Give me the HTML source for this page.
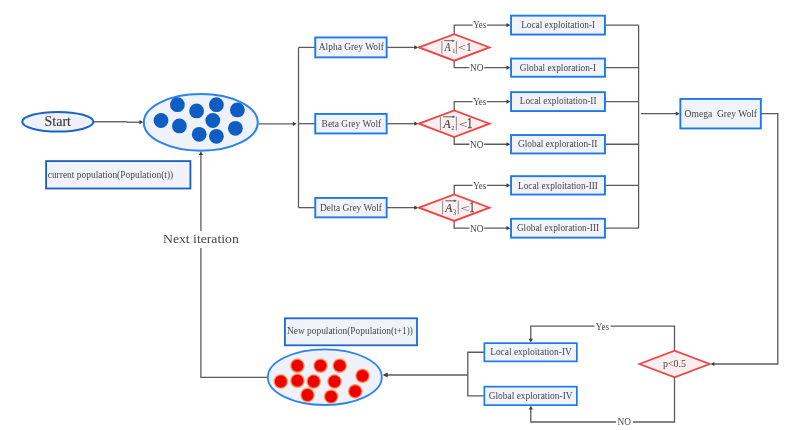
<!DOCTYPE html>
<html><head><meta charset="utf-8"><style>
html,body{margin:0;padding:0;background:#fff;width:799px;height:430px;overflow:hidden}
svg{display:block;will-change:transform}
text{font-family:"Liberation Serif",serif;fill:#464646;stroke:#464646;stroke-width:0px}
</style></head><body>
<svg width="799" height="430" viewBox="0 0 799 430">
<rect width="799" height="430" fill="#ffffff"/>
<path d="M93.5,121.65 H127.4" stroke="#6a6a6a" stroke-width="1.5"/>
<path d="M127.00,122.20 L140.50,122.20" fill="none" stroke="#5c5c5c" stroke-width="1.3"/>
<path d="M143.30,122.20 L139.50,124.30 L139.50,120.10 Z" fill="#3c3c3c"/>
<path d="M258.50,123.80 L293.80,123.80" fill="none" stroke="#5c5c5c" stroke-width="1.3"/>
<path d="M296.60,123.80 L292.80,125.90 L292.80,121.70 Z" fill="#3c3c3c"/>
<path d="M298.50,47.40 L298.50,207.65" fill="none" stroke="#5c5c5c" stroke-width="1.3"/>
<path d="M298.50,47.40 L315.30,47.40" fill="none" stroke="#5c5c5c" stroke-width="1.3"/>
<path d="M386.60,47.40 L415.40,47.40" fill="none" stroke="#5c5c5c" stroke-width="1.3"/>
<path d="M418.20,47.40 L414.40,49.50 L414.40,45.30 Z" fill="#3c3c3c"/>
<path d="M298.50,123.70 L315.30,123.70" fill="none" stroke="#5c5c5c" stroke-width="1.3"/>
<path d="M386.60,123.70 L415.40,123.70" fill="none" stroke="#5c5c5c" stroke-width="1.3"/>
<path d="M418.20,123.70 L414.40,125.80 L414.40,121.60 Z" fill="#3c3c3c"/>
<path d="M298.50,207.65 L315.30,207.65" fill="none" stroke="#5c5c5c" stroke-width="1.3"/>
<path d="M386.60,207.65 L415.40,207.65" fill="none" stroke="#5c5c5c" stroke-width="1.3"/>
<path d="M418.20,207.65 L414.40,209.75 L414.40,205.55 Z" fill="#3c3c3c"/>
<path d="M454.20,34.40 L454.20,25.10 L507.50,25.10" fill="none" stroke="#5c5c5c" stroke-width="1.3"/>
<path d="M510.30,25.10 L506.50,27.20 L506.50,23.00 Z" fill="#3c3c3c"/>
<path d="M454.20,60.40 L454.20,67.65 L507.50,67.65" fill="none" stroke="#5c5c5c" stroke-width="1.3"/>
<path d="M510.30,67.65 L506.50,69.75 L506.50,65.55 Z" fill="#3c3c3c"/>
<path d="M454.20,110.70 L454.20,101.60 L507.50,101.60" fill="none" stroke="#5c5c5c" stroke-width="1.3"/>
<path d="M510.30,101.60 L506.50,103.70 L506.50,99.50 Z" fill="#3c3c3c"/>
<path d="M454.20,136.70 L454.20,144.25 L507.50,144.25" fill="none" stroke="#5c5c5c" stroke-width="1.3"/>
<path d="M510.30,144.25 L506.50,146.35 L506.50,142.15 Z" fill="#3c3c3c"/>
<path d="M454.20,194.65 L454.20,185.35 L507.50,185.35" fill="none" stroke="#5c5c5c" stroke-width="1.3"/>
<path d="M510.30,185.35 L506.50,187.45 L506.50,183.25 Z" fill="#3c3c3c"/>
<path d="M454.20,220.65 L454.20,228.20 L507.50,228.20" fill="none" stroke="#5c5c5c" stroke-width="1.3"/>
<path d="M510.30,228.20 L506.50,230.30 L506.50,226.10 Z" fill="#3c3c3c"/>
<path d="M638.60,25.10 L638.60,228.20" fill="none" stroke="#5c5c5c" stroke-width="1.3"/>
<path d="M604.90,25.10 L638.60,25.10" fill="none" stroke="#5c5c5c" stroke-width="1.3"/>
<path d="M604.90,67.65 L638.60,67.65" fill="none" stroke="#5c5c5c" stroke-width="1.3"/>
<path d="M604.90,101.60 L638.60,101.60" fill="none" stroke="#5c5c5c" stroke-width="1.3"/>
<path d="M604.90,144.25 L638.60,144.25" fill="none" stroke="#5c5c5c" stroke-width="1.3"/>
<path d="M604.90,185.35 L638.60,185.35" fill="none" stroke="#5c5c5c" stroke-width="1.3"/>
<path d="M604.90,228.20 L638.60,228.20" fill="none" stroke="#5c5c5c" stroke-width="1.3"/>
<path d="M641.00,113.70 L676.80,113.70" fill="none" stroke="#5c5c5c" stroke-width="1.3"/>
<path d="M679.60,113.70 L675.80,115.80 L675.80,111.60 Z" fill="#3c3c3c"/>
<path d="M760.80,113.70 L777.80,113.70 L777.80,364.00 L713.40,364.00" fill="none" stroke="#5c5c5c" stroke-width="1.3"/>
<path d="M710.60,364.00 L714.40,361.90 L714.40,366.10 Z" fill="#3c3c3c"/>
<path d="M674.50,351.00 L674.50,326.20 L530.80,326.20 L530.80,339.70" fill="none" stroke="#5c5c5c" stroke-width="1.3"/>
<path d="M530.80,342.50 L528.70,338.70 L532.90,338.70 Z" fill="#3c3c3c"/>
<path d="M674.50,377.00 L674.50,422.00 L530.80,422.00 L530.80,408.60" fill="none" stroke="#5c5c5c" stroke-width="1.3"/>
<path d="M530.80,405.80 L532.90,409.60 L528.70,409.60 Z" fill="#3c3c3c"/>
<path d="M484.50,352.25 L467.80,352.25 L467.80,395.90 L484.50,395.90" fill="none" stroke="#5c5c5c" stroke-width="1.3"/>
<path d="M467.80,375.00 L386.60,375.00" fill="none" stroke="#5c5c5c" stroke-width="1.3"/>
<path d="M382.60,375.00 L387.60,372.40 L387.60,377.60 Z" fill="#3c3c3c"/>
<path d="M267.30,377.40 L200.90,377.40 L200.90,248.00" fill="none" stroke="#5c5c5c" stroke-width="1.3"/>
<path d="M200.90,231.00 L200.90,154.10" fill="none" stroke="#5c5c5c" stroke-width="1.3"/>
<path d="M200.90,151.30 L203.00,155.10 L198.80,155.10 Z" fill="#3c3c3c"/>
<ellipse cx="57.8" cy="121.75" rx="35.6" ry="9.85" fill="#eef1f9" stroke="#1a62c4" stroke-width="2"/>
<text x="44.6" y="126.3" font-size="14.6" style="fill:#383838;stroke:#383838;stroke-width:0.1px" textLength="26.4" lengthAdjust="spacingAndGlyphs">Start</text>
<ellipse cx="200.8" cy="122.4" rx="57" ry="28.3" fill="#eff2f9" stroke="#2a84ea" stroke-width="2"/>
<circle cx="177.4" cy="104.7" r="7.4" fill="#0d5dc4"/>
<circle cx="216.4" cy="104.7" r="7.4" fill="#0d5dc4"/>
<circle cx="196.6" cy="110.9" r="7.4" fill="#0d5dc4"/>
<circle cx="237.4" cy="109.9" r="7.4" fill="#0d5dc4"/>
<circle cx="161" cy="120.5" r="7.4" fill="#0d5dc4"/>
<circle cx="212.8" cy="120.5" r="7.4" fill="#0d5dc4"/>
<circle cx="179.4" cy="125.9" r="7.4" fill="#0d5dc4"/>
<circle cx="235.4" cy="128.3" r="7.4" fill="#0d5dc4"/>
<circle cx="199.2" cy="134.3" r="7.4" fill="#0d5dc4"/>
<circle cx="216.4" cy="136.3" r="7.4" fill="#0d5dc4"/>
<ellipse cx="324.8" cy="377.2" rx="57.0" ry="27.8" fill="#eef1f9" stroke="#2a84ea" stroke-width="1.8"/>
<circle cx="297.4" cy="365.7" r="7.4" fill="#f8b088"/><circle cx="297.4" cy="365.7" r="6.7" fill="#f47a40"/><circle cx="297.4" cy="365.7" r="5.9" fill="#ee0000"/>
<circle cx="320.5" cy="365.7" r="7.4" fill="#f8b088"/><circle cx="320.5" cy="365.7" r="6.7" fill="#f47a40"/><circle cx="320.5" cy="365.7" r="5.9" fill="#ee0000"/>
<circle cx="339.7" cy="365.7" r="7.4" fill="#f8b088"/><circle cx="339.7" cy="365.7" r="6.7" fill="#f47a40"/><circle cx="339.7" cy="365.7" r="5.9" fill="#ee0000"/>
<circle cx="362.5" cy="375.8" r="7.4" fill="#f8b088"/><circle cx="362.5" cy="375.8" r="6.7" fill="#f47a40"/><circle cx="362.5" cy="375.8" r="5.9" fill="#ee0000"/>
<circle cx="280.8" cy="381.5" r="7.4" fill="#f8b088"/><circle cx="280.8" cy="381.5" r="6.7" fill="#f47a40"/><circle cx="280.8" cy="381.5" r="5.9" fill="#ee0000"/>
<circle cx="297.4" cy="380.7" r="7.4" fill="#f8b088"/><circle cx="297.4" cy="380.7" r="6.7" fill="#f47a40"/><circle cx="297.4" cy="380.7" r="5.9" fill="#ee0000"/>
<circle cx="313.7" cy="381.5" r="7.4" fill="#f8b088"/><circle cx="313.7" cy="381.5" r="6.7" fill="#f47a40"/><circle cx="313.7" cy="381.5" r="5.9" fill="#ee0000"/>
<circle cx="334.5" cy="381.5" r="7.4" fill="#f8b088"/><circle cx="334.5" cy="381.5" r="6.7" fill="#f47a40"/><circle cx="334.5" cy="381.5" r="5.9" fill="#ee0000"/>
<circle cx="355.2" cy="391.3" r="7.4" fill="#f8b088"/><circle cx="355.2" cy="391.3" r="6.7" fill="#f47a40"/><circle cx="355.2" cy="391.3" r="5.9" fill="#ee0000"/>
<circle cx="307.5" cy="395" r="7.4" fill="#f8b088"/><circle cx="307.5" cy="395" r="6.7" fill="#f47a40"/><circle cx="307.5" cy="395" r="5.9" fill="#ee0000"/>
<circle cx="331.1" cy="396.6" r="7.4" fill="#f8b088"/><circle cx="331.1" cy="396.6" r="6.7" fill="#f47a40"/><circle cx="331.1" cy="396.6" r="5.9" fill="#ee0000"/>
<rect x="315.25" y="37.45" width="71.40" height="19.90" fill="#f1f3fa" stroke="#1f7ae8" stroke-width="1.9"/>
<text x="318.8" y="50.20" font-size="10.5" textLength="65.00" lengthAdjust="spacingAndGlyphs">Alpha Grey Wolf</text>
<rect x="315.25" y="113.95" width="71.40" height="19.50" fill="#f1f3fa" stroke="#1f7ae8" stroke-width="1.9"/>
<text x="321.6" y="126.50" font-size="10.5" textLength="59.60" lengthAdjust="spacingAndGlyphs">Beta Grey Wolf</text>
<rect x="315.25" y="197.95" width="71.40" height="19.40" fill="#f1f3fa" stroke="#1f7ae8" stroke-width="1.9"/>
<text x="319.9" y="210.50" font-size="10.5" textLength="62.00" lengthAdjust="spacingAndGlyphs">Delta Grey Wolf</text>
<rect x="511.05" y="15.65" width="93.90" height="18.90" fill="#f1f3fa" stroke="#1f7ae8" stroke-width="1.9"/>
<text x="521.2" y="28.10" font-size="10.5" textLength="73.90" lengthAdjust="spacingAndGlyphs">Local exploitation-I</text>
<rect x="511.05" y="58.55" width="93.90" height="18.20" fill="#f1f3fa" stroke="#1f7ae8" stroke-width="1.9"/>
<text x="519.8" y="70.50" font-size="10.5" textLength="76.20" lengthAdjust="spacingAndGlyphs">Global exploration-I</text>
<rect x="511.05" y="92.15" width="93.90" height="18.90" fill="#f1f3fa" stroke="#1f7ae8" stroke-width="1.9"/>
<text x="519.8" y="104.40" font-size="10.5" textLength="76.70" lengthAdjust="spacingAndGlyphs">Local exploitation-II</text>
<rect x="511.05" y="135.05" width="93.90" height="18.40" fill="#f1f3fa" stroke="#1f7ae8" stroke-width="1.9"/>
<text x="518.0" y="147.00" font-size="10.5" textLength="79.40" lengthAdjust="spacingAndGlyphs">Global exploration-II</text>
<rect x="511.05" y="176.15" width="93.90" height="18.40" fill="#f1f3fa" stroke="#1f7ae8" stroke-width="1.9"/>
<text x="518.1" y="188.60" font-size="10.5" textLength="79.80" lengthAdjust="spacingAndGlyphs">Local exploitation-III</text>
<rect x="511.05" y="218.75" width="93.90" height="18.90" fill="#f1f3fa" stroke="#1f7ae8" stroke-width="1.9"/>
<text x="516.9" y="231.20" font-size="10.5" textLength="82.20" lengthAdjust="spacingAndGlyphs">Global exploration-III</text>
<rect x="680.35" y="98.95" width="80.50" height="29.50" fill="#f1f3fa" stroke="#1f7ae8" stroke-width="1.9"/>
<text x="684.6" y="117.20" font-size="10.5" textLength="72.40" lengthAdjust="spacingAndGlyphs">Omega&#160; Grey Wolf</text>
<rect x="484.35" y="343.15" width="92.50" height="18.20" fill="#f1f3fa" stroke="#1f7ae8" stroke-width="1.7"/>
<text x="490.2" y="355.20" font-size="10.5" textLength="81.60" lengthAdjust="spacingAndGlyphs">Local exploitation-IV</text>
<rect x="484.35" y="386.65" width="92.50" height="18.50" fill="#f1f3fa" stroke="#1f7ae8" stroke-width="1.7"/>
<text x="488.7" y="398.90" font-size="10.5" textLength="83.90" lengthAdjust="spacingAndGlyphs">Global exploration-IV</text>
<rect x="46.10" y="161.10" width="144.30" height="27.40" fill="#f1f3fa" stroke="#1a5cc6" stroke-width="1.8"/>
<text x="47.7" y="178.00" font-size="10.5" textLength="125.50" lengthAdjust="spacingAndGlyphs">current population(Population(t))</text>
<rect x="284.90" y="318.30" width="132.10" height="27.00" fill="#f1f3fa" stroke="#2066d0" stroke-width="1.8"/>
<text x="287.0" y="333.80" font-size="10.5" textLength="126.00" lengthAdjust="spacingAndGlyphs">New population(Population(t+1))</text>
<path d="M418.90,47.40 L454.20,34.10 L489.50,47.40 L454.20,60.70 Z" fill="#fbeeee" stroke="#f04545" stroke-width="1.8"/>
<path d="M441.9,41.0 V53.7 M456.4,41.0 V53.7" stroke="#808080" stroke-width="0.9"/>
<path d="M444.1,40.7 H453.4" stroke="#505050" stroke-width="0.9"/>
<path d="M454.9,40.7 L452.29999999999995,39.5 L452.29999999999995,41.900000000000006 Z" fill="#505050"/>
<text transform="translate(444.625,51.100) scale(0.09552,0.11908)" x="0" y="0" font-size="100" font-style="italic" style="stroke-width:1.5px">A</text>
<text transform="translate(452.360,53.300) scale(0.06000,0.05649)" x="0" y="0" font-size="100" font-style="normal">1</text>
<text transform="translate(458.355,50.500) scale(0.12903,0.10000)" x="0" y="0" font-size="100" font-style="normal">&lt;</text>
<text transform="translate(466.777,51.100) scale(0.09143,0.11908)" x="0" y="0" font-size="100" font-style="normal" style="stroke-width:2px">1</text>
<path d="M418.90,123.70 L454.20,110.40 L489.50,123.70 L454.20,137.00 Z" fill="#fbeeee" stroke="#f04545" stroke-width="1.8"/>
<path d="M440.4,116.6 V130.3 M456.4,116.6 V130.3" stroke="#808080" stroke-width="0.9"/>
<path d="M443.0,116.8 H453.8" stroke="#505050" stroke-width="0.9"/>
<path d="M455.3,116.8 L452.7,115.6 L452.7,118.0 Z" fill="#505050"/>
<text transform="translate(443.273,127.700) scale(0.12239,0.12977)" x="0" y="0" font-size="100" font-style="italic" style="stroke-width:1.5px">A</text>
<text transform="translate(451.308,130.300) scale(0.06500,0.05606)" x="0" y="0" font-size="100" font-style="normal">2</text>
<text transform="translate(458.637,127.500) scale(0.15269,0.10000)" x="0" y="0" font-size="100" font-style="normal">&lt;</text>
<text transform="translate(467.049,127.700) scale(0.10571,0.13588)" x="0" y="0" font-size="100" font-style="normal" style="stroke-width:2px">1</text>
<path d="M418.90,207.65 L454.20,194.35 L489.50,207.65 L454.20,220.95 Z" fill="#fbeeee" stroke="#f04545" stroke-width="1.8"/>
<path d="M442.6,200.6 V214.3 M458.3,200.6 V214.3" stroke="#808080" stroke-width="0.9"/>
<path d="M445.3,200.8 H455.3" stroke="#505050" stroke-width="0.9"/>
<path d="M456.8,200.8 L454.2,199.60000000000002 L454.2,202.0 Z" fill="#505050"/>
<text transform="translate(445.140,211.700) scale(0.11642,0.12977)" x="0" y="0" font-size="100" font-style="italic" style="stroke-width:1.5px">A</text>
<text transform="translate(453.083,214.700) scale(0.06341,0.07273)" x="0" y="0" font-size="100" font-style="normal">3</text>
<text transform="translate(460.394,211.575) scale(0.16129,0.10833)" x="0" y="0" font-size="100" font-style="normal">&lt;</text>
<text transform="translate(469.500,211.700) scale(0.10000,0.14198)" x="0" y="0" font-size="100" font-style="normal" style="stroke-width:2px">1</text>
<path d="M639.45,364.00 L674.55,350.60 L709.65,364.00 L674.55,377.40 Z" fill="#fbeeee" stroke="#f04545" stroke-width="1.8"/>
<text x="663" y="366.90" font-size="10" textLength="23.00" lengthAdjust="spacingAndGlyphs">p&lt;0.5</text>
<rect x="472.6" y="22.1" width="14.399999999999977" height="6" fill="#ffffff"/>
<text x="473.3" y="28.30" font-size="9.5" textLength="13.00" lengthAdjust="spacingAndGlyphs">Yes</text>
<rect x="469.4" y="64.65" width="14.800000000000011" height="6" fill="#ffffff"/>
<text x="470" y="70.95" font-size="9.5" textLength="13.50" lengthAdjust="spacingAndGlyphs">NO</text>
<rect x="472.6" y="98.6" width="14.399999999999977" height="6" fill="#ffffff"/>
<text x="473.3" y="104.80" font-size="9.5" textLength="13.00" lengthAdjust="spacingAndGlyphs">Yes</text>
<rect x="469.4" y="141.25" width="14.800000000000011" height="6" fill="#ffffff"/>
<text x="470" y="147.55" font-size="9.5" textLength="13.50" lengthAdjust="spacingAndGlyphs">NO</text>
<rect x="472.6" y="182.35" width="14.399999999999977" height="6" fill="#ffffff"/>
<text x="473.3" y="188.55" font-size="9.5" textLength="13.00" lengthAdjust="spacingAndGlyphs">Yes</text>
<rect x="469.4" y="225.2" width="14.800000000000011" height="6" fill="#ffffff"/>
<text x="470" y="231.50" font-size="9.5" textLength="13.50" lengthAdjust="spacingAndGlyphs">NO</text>
<rect x="594.5" y="323.2" width="16.0" height="6" fill="#ffffff"/>
<text x="595.8" y="329.50" font-size="9.5" textLength="13.20" lengthAdjust="spacingAndGlyphs">Yes</text>
<rect x="616" y="419" width="17" height="6" fill="#ffffff"/>
<text x="617.5" y="425.30" font-size="9.5" textLength="13.50" lengthAdjust="spacingAndGlyphs">NO</text>
<rect x="160" y="231" width="82" height="17" fill="#ffffff"/>
<text x="163" y="243.4" font-size="13.5" textLength="75.8" lengthAdjust="spacingAndGlyphs">Next iteration</text>
</svg></body></html>
